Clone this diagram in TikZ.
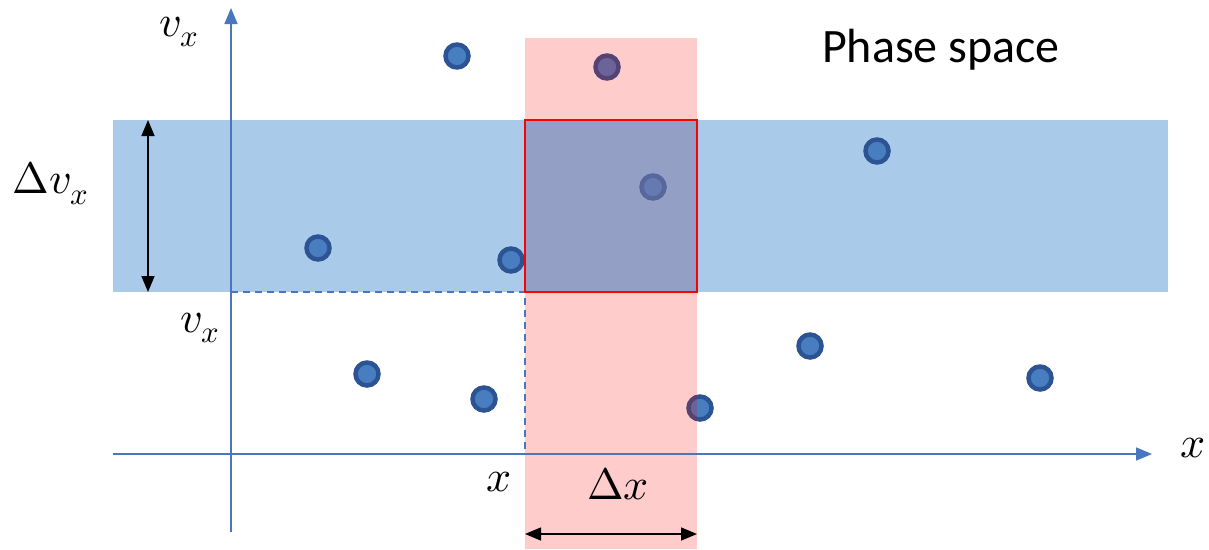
\documentclass[tikz,border=0pt]{standalone}
\usepackage{fontspec}
\usepackage{unicode-math}
\setmathfont{Latin Modern Math}
\setsansfont{Carlito}
\usetikzlibrary{arrows.meta}
\definecolor{axisblue}{RGB}{72,118,192}
\definecolor{bandblue}{RGB}{91,155,213}
\definecolor{dotfill}{RGB}{72,126,192}
\definecolor{dotedge}{RGB}{44,84,148}
\tikzset{
  axis/.style={draw=axisblue, line width=1.6pt, -{Triangle[length=16pt,width=13pt]}},
  guide/.style={draw=axisblue, line width=1.3pt, dash pattern=on 7pt off 5pt},
  dim/.style={draw=black, line width=1.6pt, {Triangle[length=16pt,width=13pt]}-{Triangle[length=16pt,width=13pt]}},
  particle/.style={circle, fill=dotfill, draw=dotedge, line width=4.5pt, minimum size=23pt, inner sep=0pt},
  lbl/.style={font=\fontsize{44}{50}\selectfont, inner sep=0pt},
}
\begin{document}
\begin{tikzpicture}[x=1pt,y=-1pt]
\useasboundingbox (0,0) rectangle (1209,549);
% blue velocity band
\fill[bandblue, fill opacity=0.52] (113,120) rectangle (1168,292);
% particles
\node[particle] (p1) at (457,56) {};
\node[particle] (p2) at (607,67) {};
\node[particle] (p3) at (877,151) {};
\node[particle] (p4) at (653,187) {};
\node[particle] (p5) at (318,248) {};
\node[particle] (p6) at (511,260) {};
\node[particle] (p7) at (367,374) {};
\node[particle] (p8) at (484,399) {};
\node[particle] (p9) at (700,408) {};
\node[particle] (p10) at (810,346) {};
\node[particle] (p11) at (1040,378) {};
% red position band
\fill[red, fill opacity=0.2] (525,38) rectangle (697,549);
\fill[bandblue, fill opacity=0.4] (525,120) rectangle (697,292);
% axes
\coordinate (xs) at (113,454);
\coordinate (xe) at (1152,454);
\coordinate (ys) at (231,532);
\coordinate (ye) at (231,8);
\draw[axis] (xs) -- (xe);
\draw[axis] (ys) -- (ye);
% guides
\coordinate (vx0) at (231,292);
\coordinate (corner) at (525,292);
\coordinate (x0) at (525,454);
\draw[guide] (vx0) -- (corner) -- (x0);
% red cell
\node[draw=red, line width=2.6pt, minimum width=172pt, minimum height=172pt, inner sep=0pt] (cell) at (611,206) {};
% dimension arrows
\coordinate (dvt) at (148,120);
\coordinate (dvb) at (148,292);
\draw[dim] (dvt) -- (dvb);
\coordinate (dxl) at (525,534);
\coordinate (dxr) at (697,534);
\draw[dim] (dxl) -- (dxr);
% labels
\node[lbl] (lvtop) at (179,32) {$v_x$};
\node[lbl] (ldv) at (51,183) {$\Delta v_x$};
\node[lbl] (lvx) at (200,328) {$v_x$};
\node[lbl] (lx) at (499,482) {$x$};
\node[lbl] (ldx) at (618,484) {$\Delta x$};
\node[lbl] (lxax) at (1193,448) {$x$};
\node[font=\sffamily\fontsize{48}{54}\selectfont, inner sep=0pt] (title) at (941,50) {Phase space};
\end{tikzpicture}
\end{document}
